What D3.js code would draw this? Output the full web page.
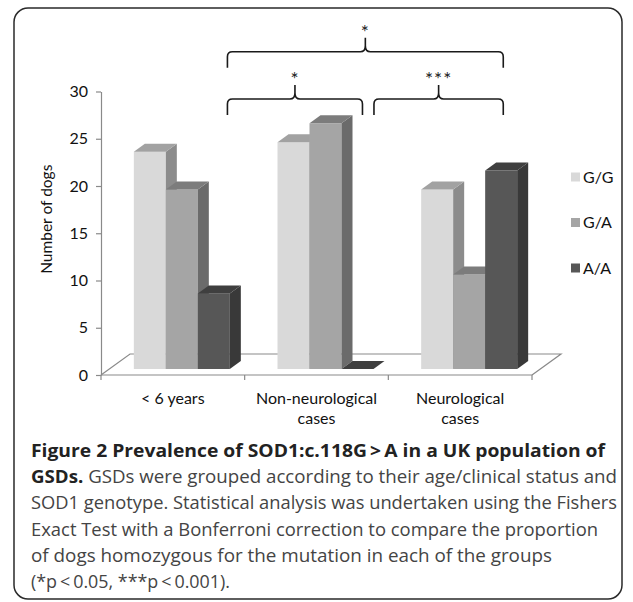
<!DOCTYPE html>
<html>
  <head>
    <meta charset="utf-8">
    <title>SOD1 genotype</title>
    <script src="https://cdn.jsdelivr.net/npm/d3@7/dist/d3.min.js"></script>
    <style>
      body { margin: 0; background: #ffffff; }
      text { font-family: Lato, "Open Sans", sans-serif; }
      .cap { font-family: "Open Sans", "Noto Sans", sans-serif; }
    </style>
  </head>
  <body>
    <svg width="633" height="602" id="mainsvg"></svg>
    <script>
        // data
        const categories = [['< 6 years'], ['Non-neurological', 'cases'], ['Neurological', 'cases']];
        const genotypes = ['G/G', 'G/A', 'A/A'];
        const valuesGG = [23, 24, 19];
        const valuesGA = [19, 26, 10];
        const valuesAA = [8, 0, 21];
        const yTicks = [0, 5, 10, 15, 20, 25, 30];
        const yTitle = 'Number of dogs';
        // significance braces: from/to in band units, level in y units
        const braceFrom = [0.88, 0.88, 1.90];
        const braceTo = [2.80, 1.82, 2.80];
        const braceLevel = [34.2, 29.2, 29.2];
        const braceLabel = ['*', '*', '***'];
        const captionLines = [
            [['Figure 2 Prevalence of SOD1:c.118G\u2009>\u2009A in a UK population of', true]],
            [['GSDs.', true], [' GSDs were grouped according to their age/clinical status and', false]],
            [['SOD1 genotype. Statistical analysis was undertaken using the Fishers', false]],
            [['Exact Test with a Bonferroni correction to compare the proportion', false]],
            [['of dogs homozygous for the mutation in each of the groups', false]],
            [['(*p\u2009<\u20090.05, ***p\u2009<\u20090.001).', false]]
        ];
        const captionWidths = [574, 586, 586, 567, 521, 199];

        const svg = d3.select('#mainsvg');
        const series = [valuesGG, valuesGA, valuesAA];
        const colors = {
            'G/G': {front: '#d9d9d9', top: '#a2a2a2', side: '#8c8c8c'},
            'G/A': {front: '#a5a5a5', top: '#7c7c7c', side: '#6b6b6b'},
            'A/A': {front: '#575757', top: '#3f3f3f', side: '#393939'}
        };

        const xScale = d3.scaleBand().domain(d3.range(categories.length)).range([101, 532]);
        const inner = d3.scaleBand().domain(genotypes).range([-48, 48]);
        const yScale = d3.scaleLinear().domain([0, 30]).range([375, 91.5]);
        const place = {dx: 9, dy: -6};   // bars sit a bit into the floor
        const depth = {dx: 11, dy: -8};  // bar depth
        const floorD = {dx: 29, dy: -21};

        // frame
        svg.append('rect')
            .attr('x', 14).attr('y', 8).attr('width', 608).attr('height', 591)
            .attr('rx', 14)
            .attr('fill', 'none').attr('stroke', '#2a2a2a').attr('stroke-width', 1.5);

        const g = svg.append('g').attr('id', 'maingroup');
        const x0 = xScale.range()[0], x1 = xScale.range()[1], y0 = yScale(0);

        // floor (outline only)
        g.append('path')
            .attr('d', `M${x0},${y0} L${x0 + floorD.dx},${y0 + floorD.dy} L${x1 + floorD.dx},${y0 + floorD.dy} L${x1},${y0}`)
            .attr('fill', 'none').attr('stroke', '#8a8a8a').attr('stroke-width', 1.2);

        // y axis
        const yAxis = d3.axisLeft(yScale).tickValues(yTicks).tickSize(5).tickSizeOuter(0).tickPadding(8);
        const yAxisGroup = g.append('g').attr('transform', `translate(${x0},0)`).call(yAxis);
        yAxisGroup.select('.domain').attr('stroke', '#8a8a8a').attr('stroke-width', 1.2);
        yAxisGroup.selectAll('.tick line').attr('stroke', '#8a8a8a').attr('stroke-width', 1.2);
        yAxisGroup.selectAll('.tick text')
            .attr('font-size', '16px').attr('fill', '#111111')
            .style('font-family', 'Lato, sans-serif');

        g.append('text')
            .attr('transform', `translate(47, ${(yScale(0) + yScale(30)) / 2 - 14}) rotate(-90)`)
            .attr('text-anchor', 'middle').attr('dy', '0.35em')
            .attr('font-size', '15.5px').attr('fill', '#111111')
            .text(yTitle);

        // x axis: front floor edge, ticks at band edges, labels at centres
        g.append('line')
            .attr('x1', x0).attr('x2', x1).attr('y1', y0).attr('y2', y0)
            .attr('stroke', '#8a8a8a').attr('stroke-width', 1.2);
        const edges = d3.range(categories.length + 1).map(i => x0 + i * xScale.bandwidth());
        g.selectAll('.xtick').data(edges).enter().append('line')
            .attr('class', 'xtick')
            .attr('x1', d => d).attr('x2', d => d)
            .attr('y1', y0).attr('y2', y0 + 5)
            .attr('stroke', '#8a8a8a').attr('stroke-width', 1.2);
        const xl = g.selectAll('.xlabel').data(categories).enter().append('text')
            .attr('class', 'xlabel')
            .attr('text-anchor', 'middle')
            .attr('font-size', '16px').attr('fill', '#111111')
            .attr('x', (d, i) => xScale(i) + xScale.bandwidth() / 2)
            .attr('y', 404);
        xl.selectAll('tspan').data(d => d).enter().append('tspan')
            .attr('x', function() { return d3.select(this.parentNode).attr('x'); })
            .attr('dy', (d, j) => j === 0 ? 0 : 20)
            .text(d => d);

        // 3D bars, drawn left to right so each front face hides the previous side
        categories.forEach((c, i) => {
            genotypes.forEach((gt, k) => {
                const v = series[k][i];
                const left = xScale(i) + xScale.bandwidth() / 2 + inner(gt) + place.dx;
                const right = left + inner.bandwidth();
                const bot = yScale(0) + place.dy;
                const top = yScale(v) + place.dy;
                const col = colors[gt];
                const bar = g.append('g').attr('class', 'bar');
                if (v > 0) {
                    bar.append('rect')
                        .attr('x', left).attr('y', top)
                        .attr('width', right - left).attr('height', bot - top)
                        .attr('fill', col.front);
                    bar.append('path')
                        .attr('d', `M${right},${top} L${right + depth.dx},${top + depth.dy} L${right + depth.dx},${bot + depth.dy} L${right},${bot} Z`)
                        .attr('fill', col.side);
                }
                bar.append('path')
                    .attr('d', `M${left},${top} L${left + depth.dx},${top + depth.dy} L${right + depth.dx},${top + depth.dy} L${right},${top} Z`)
                    .attr('fill', col.top);
            });
        });

        // legend
        const legend = g.selectAll('.legend').data(genotypes).enter().append('g')
            .attr('class', 'legend')
            .attr('transform', (d, i) => `translate(571, ${177 + i * 45.5})`);
        legend.append('rect')
            .attr('x', 0).attr('y', -4.5).attr('width', 9).attr('height', 9)
            .attr('fill', d => colors[d].front);
        legend.append('text')
            .attr('x', 12).attr('dy', '0.35em')
            .attr('font-size', '16px').attr('fill', '#111111')
            .text(d => d);

        // significance braces
        const bx = u => x0 + u * xScale.bandwidth();
        braceLabel.forEach((lab, i) => {
            const a = bx(braceFrom[i]), b = bx(braceTo[i]), m = (a + b) / 2;
            const yy = yScale(braceLevel[i]);
            const d = `M${a},${yy + 16} L${a},${yy + 5} Q${a},${yy} ${a + 5},${yy} ` +
                `L${m - 5},${yy} Q${m},${yy} ${m},${yy - 6} L${m},${yy - 14} ` +
                `M${m},${yy - 6} Q${m},${yy} ${m + 5},${yy} ` +
                `L${b - 5},${yy} Q${b},${yy} ${b},${yy + 5} L${b},${yy + 16}`;
            g.append('path').attr('d', d)
                .attr('fill', 'none').attr('stroke', '#1a1a1a').attr('stroke-width', 1.6);
            g.append('text')
                .attr('x', m).attr('y', yy - 13)
                .attr('text-anchor', 'middle')
                .attr('font-size', '19px').attr('fill', '#1a1a1a')
                .attr('letter-spacing', '1px')
                .text(lab);
        });

        // caption
        const cap = svg.append('g').attr('class', 'cap');
        captionLines.forEach((line, i) => {
            const t = cap.append('text')
                .attr('class', 'cap')
                .attr('x', 31).attr('y', 457 + i * 26.2)
                .attr('font-size', '17.5px')
                .attr('textLength', captionWidths[i])
                .attr('lengthAdjust', 'spacingAndGlyphs');
            line.forEach(part => {
                t.append('tspan')
                    .attr('font-weight', part[1] ? 'bold' : 'normal')
                    .attr('fill', part[1] ? '#222222' : '#444444')
                    .text(part[0]);
            });
        });
    </script>
  </body>
</html>
